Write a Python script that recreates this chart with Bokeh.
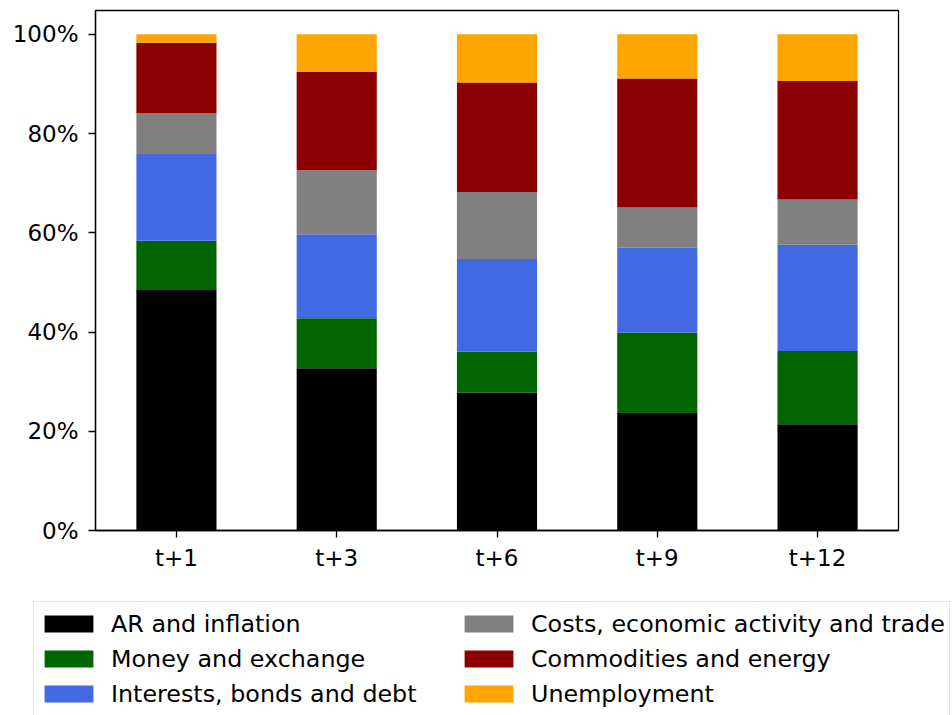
from bokeh.plotting import figure
from bokeh.layouts import column
from bokeh.models import FactorRange, Range1d, Legend, LegendItem, FixedTicker, PrintfTickFormatter
from bokeh.embed import file_html
from bokeh.resources import INLINE

horizons = ["t+1", "t+3", "t+6", "t+9", "t+12"]
ar_inflation = [48.6, 32.7, 27.8, 23.7, 21.4]
money_exchange = [9.8, 10.1, 8.3, 16.2, 14.8]
interests_bonds = [17.5, 16.9, 18.6, 17.1, 21.4]
costs_activity = [8.2, 12.9, 13.5, 8.1, 9.1]
commodities = [14.2, 19.8, 22.1, 26.0, 23.9]
unemployment = [1.7, 7.6, 9.7, 8.9, 9.4]

series_names = ["AR and inflation", "Money and exchange", "Interests, bonds and debt",
                "Costs, economic activity and trade", "Commodities and energy", "Unemployment"]
keys = ["ar", "money", "interests", "costs", "commodities", "unemp"]
colors = ["#000000", "#006400", "#4169e1", "#808080", "#8b0000", "#ffa500"]

data = dict(x=horizons, ar=ar_inflation, money=money_exchange, interests=interests_bonds,
            costs=costs_activity, commodities=commodities, unemp=unemployment)

p = figure(width=952, height=585, x_range=FactorRange(*horizons, range_padding=0.002),
           y_range=Range1d(0, 104.8), output_backend="svg", toolbar_location=None,
           min_border_left=95, min_border_right=54, min_border_top=10, min_border_bottom=55)
p.frame_align = False

renderers = p.vbar_stack(keys, x="x", width=0.5, source=data, color=colors, line_color=None)

p.xgrid.visible = False
p.ygrid.visible = False
p.outline_line_color = "black"
p.outline_line_width = 1.3
p.outline_line_alpha = 1.0

font = "DejaVu Sans"
for ax in [p.xaxis[0], p.yaxis[0]]:
    ax.axis_line_color = "black"
    ax.axis_line_width = 1.3
    ax.major_tick_line_color = "black"
    ax.major_tick_line_width = 1.3
    ax.major_tick_out = 7
    ax.major_tick_in = 0
    ax.minor_tick_line_color = None
    ax.major_label_text_font = font
    ax.major_label_text_font_size = "23px"
    ax.major_label_text_color = "black"
p.yaxis[0].major_label_standoff = 10
p.xaxis[0].major_label_standoff = 7

p.yaxis[0].ticker = FixedTicker(ticks=[0, 20, 40, 60, 80, 100])
p.yaxis[0].formatter = PrintfTickFormatter(format="%d%%")

# legend panel below the chart
q = figure(width=952, height=130, x_range=Range1d(0, 1), y_range=Range1d(0, 1),
           output_backend="svg", toolbar_location=None, x_axis_type=None, y_axis_type=None,
           min_border_left=0, min_border_right=0, min_border_top=0, min_border_bottom=0)
q.frame_align = False
q.xgrid.visible = False
q.ygrid.visible = False
q.outline_line_color = None
leg_renderers = [q.vbar(x=[5], top=[5], bottom=[4], width=0.5, color=c, line_color=None)
                 for c in colors]

items = [LegendItem(label=n, renderers=[r]) for n, r in zip(series_names, leg_renderers)]
legend = Legend(items=items, ncols=2, location=(33, -1),
                label_text_font=font, label_text_font_size="23.8px", label_text_color="black",
                glyph_width=61, glyph_height=21, label_height=35, label_width=347,
                label_standoff=12, spacing=0, padding=4, margin=0,
                border_line_color="#cccccc", border_line_width=1.3,
                background_fill_color="white", background_fill_alpha=0.8)
q.add_layout(legend, "center")

open("out.html", "w").write(file_html(column(p, q, spacing=0), INLINE))
